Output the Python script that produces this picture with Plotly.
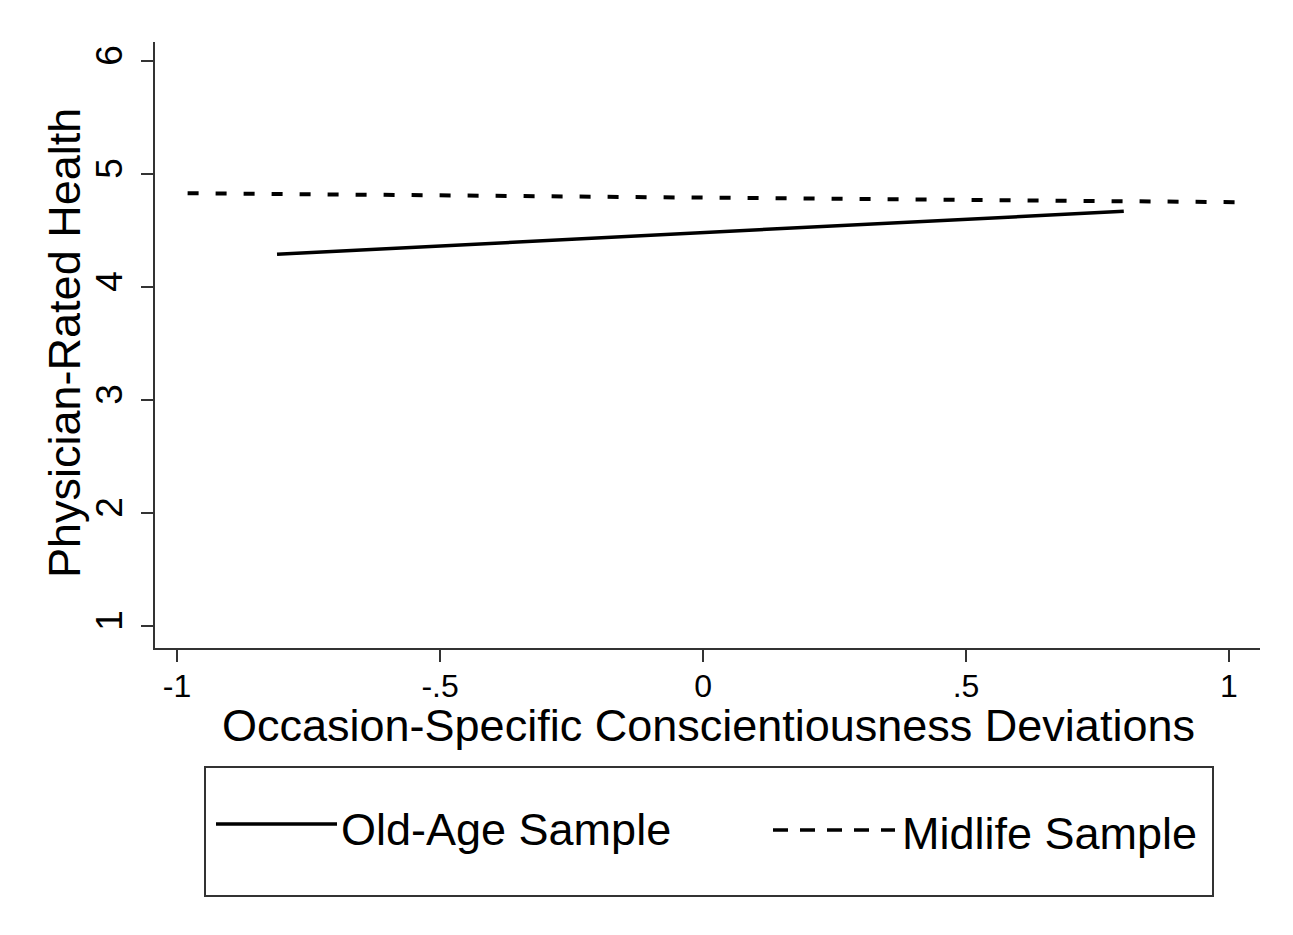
import plotly.graph_objects as go

# Data
old_x = [-0.81, 0.80]
old_y = [4.29, 4.67]
mid_x = [-0.98, 1.02]
mid_y = [4.83, 4.75]
x_tickvals = [-1, -0.5, 0, 0.5, 1]
x_ticktext = ["-1", "-.5", "0", ".5", "1"]
y_tickvals = [1, 2, 3, 4, 5, 6]
y_ticktext = ["1", "2", "3", "4", "5", "6"]
series_names = ["Old-Age Sample", "Midlife Sample"]

FONT = "Liberation Sans, Arial, sans-serif"
W, H = 1293, 935
L, R, T, B = 155, 33, 42, 287
PW, PH = W - L - R, H - T - B

def px(x):
    return (x - L) / PW

def py(y):
    return (H - B - y) / PH

fig = go.Figure()
fig.add_trace(go.Scatter(x=old_x, y=old_y, mode="lines", name=series_names[0],
                         line=dict(color="black", width=3.5), showlegend=False))
fig.add_trace(go.Scatter(x=mid_x, y=mid_y, mode="lines", name=series_names[1],
                         line=dict(color="black", width=4, dash="11px,17px"), showlegend=False))

axis_common = dict(showgrid=False, zeroline=False, showline=True, linecolor="#333333",
                   linewidth=2, ticks="outside", ticklen=12, tickwidth=2, tickcolor="#333333")
fig.update_xaxes(range=[-1.042, 1.059], tickvals=x_tickvals, ticktext=x_ticktext,
                 ticklabelstandoff=-3,
                 tickfont=dict(family=FONT, size=32, color="black"), **axis_common)
fig.update_yaxes(range=[0.805, 6.168], tickvals=y_tickvals, ticktext=y_ticktext, tickangle=-90,
                 ticklabelstandoff=4,
                 tickfont=dict(family=FONT, size=37, color="black"), **axis_common)

annotations = [
    dict(text="Occasion-Specific Conscientiousness Deviations", x=px(708), y=py(725),
         xref="paper", yref="paper", showarrow=False, xanchor="center", yanchor="middle",
         font=dict(family=FONT, size=45, color="black")),
    dict(text="Physician-Rated Health", x=px(64), y=py(343), textangle=-90,
         xref="paper", yref="paper", showarrow=False, xanchor="center", yanchor="middle",
         font=dict(family=FONT, size=45, color="black")),
    dict(text=series_names[0], x=px(339), y=py(829),
         xref="paper", yref="paper", showarrow=False, xanchor="left", yanchor="middle",
         font=dict(family=FONT, size=45, color="black")),
    dict(text=series_names[1], x=px(900), y=py(833),
         xref="paper", yref="paper", showarrow=False, xanchor="left", yanchor="middle",
         font=dict(family=FONT, size=45, color="black")),
]

shapes = [
    dict(type="rect", xref="paper", yref="paper", x0=px(205), x1=px(1213), y0=py(896), y1=py(767),
         line=dict(color="#333333", width=2), fillcolor="rgba(0,0,0,0)"),
    dict(type="line", xref="paper", yref="paper", x0=px(216), x1=px(337), y0=py(824), y1=py(824),
         line=dict(color="black", width=3.5)),
    dict(type="line", xref="paper", yref="paper", x0=px(773), x1=px(895), y0=py(830), y1=py(830),
         line=dict(color="black", width=3.5, dash="15px,12px")),
]

fig.update_layout(width=W, height=H, margin=dict(l=L, r=R, t=T, b=B, autoexpand=False),
                  paper_bgcolor="white", plot_bgcolor="white",
                  annotations=annotations, shapes=shapes, showlegend=False)

fig.write_html("out.html")
